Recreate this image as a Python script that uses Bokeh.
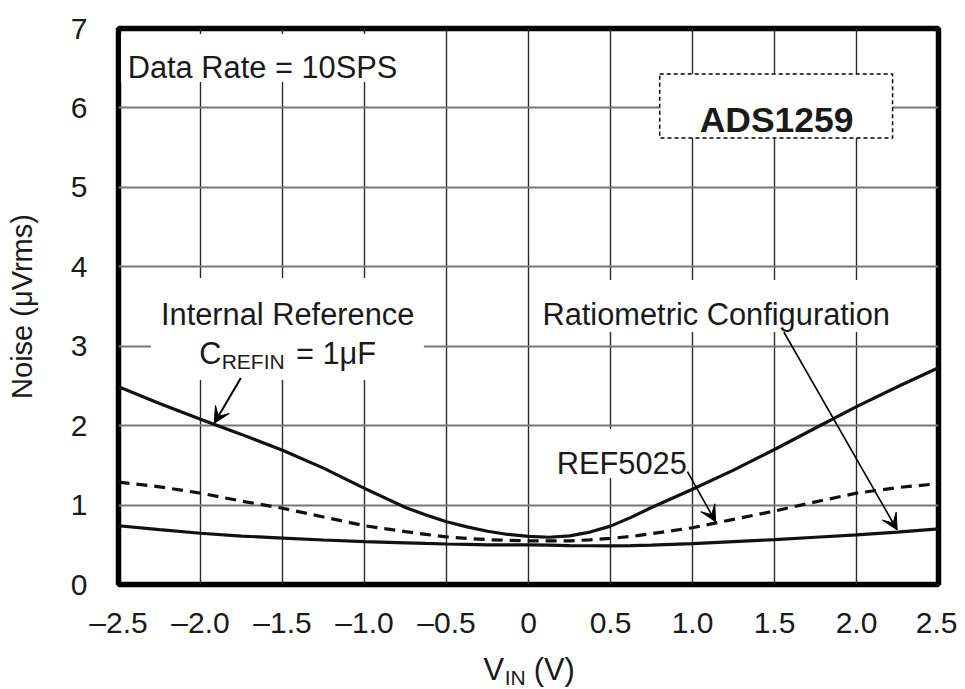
from bokeh.plotting import figure
from bokeh.models import (Label, BoxAnnotation, Arrow, VeeHead, FixedTicker, Range1d,
                          LinearAxis)
from bokeh.embed import file_html
from bokeh.resources import INLINE

# ---- data ----
vin = [-2.5, -2.25, -2.0, -1.75, -1.5, -1.25, -1.0, -0.75, -0.625, -0.5, -0.375, -0.25,
       -0.125, 0.0, 0.125, 0.25, 0.375, 0.5, 0.625, 0.75, 1.0, 1.25, 1.5, 1.75, 2.0,
       2.25, 2.5]
internal_ref = [2.49, 2.28, 2.08, 1.89, 1.69, 1.465, 1.21, 0.97, 0.875, 0.79, 0.725, 0.67,
                0.63, 0.605, 0.595, 0.612, 0.66, 0.735, 0.845, 0.97, 1.20, 1.44, 1.70,
                1.97, 2.24, 2.49, 2.73]
ref5025 = [1.29, 1.23, 1.15, 1.05, 0.96, 0.85, 0.74, 0.665, 0.63, 0.60, 0.58, 0.565,
           0.555, 0.55, 0.548, 0.55, 0.562, 0.58, 0.605, 0.64, 0.715, 0.82, 0.925,
           1.04, 1.15, 1.22, 1.27]
ratiometric = [0.74, 0.69, 0.645, 0.61, 0.585, 0.56, 0.54, 0.525, 0.517, 0.51, 0.505,
               0.50, 0.50, 0.50, 0.495, 0.49, 0.488, 0.487, 0.489, 0.495, 0.515, 0.54,
               0.565, 0.595, 0.625, 0.66, 0.70]

x_ticks = [-2.5, -2.0, -1.5, -1.0, -0.5, 0.0, 0.5, 1.0, 1.5, 2.0, 2.5]
x_tick_labels = ["\u20132.5", "\u20132.0", "\u20131.5", "\u20131.0", "\u20130.5", "0",
                 "0.5", "1.0", "1.5", "2.0", "2.5"]
y_ticks = [0, 1, 2, 3, 4, 5, 6, 7]

FONT = "Liberation Sans"
TXT = "#1a1a1a"

p = figure(frame_width=820, frame_height=556, output_backend="svg",
           toolbar_location=None, x_range=Range1d(-2.5, 2.5), y_range=Range1d(0, 7),
           min_border_left=118, min_border_right=19, min_border_top=28,
           min_border_bottom=105)
p.background_fill_color = "white"
p.border_fill_color = "white"
p.outline_line_color = "black"
p.outline_line_width = 5.5

p.xaxis.ticker = FixedTicker(ticks=x_ticks)
p.xaxis.major_label_overrides = {t: l for t, l in zip(x_ticks, x_tick_labels)}
p.yaxis.ticker = FixedTicker(ticks=y_ticks)


def plain_axis(ax, size):
    ax.axis_line_color = None
    ax.major_tick_line_color = None
    ax.minor_tick_line_color = None
    ax.major_tick_out = 0
    ax.major_tick_in = 0
    ax.major_label_text_font = FONT
    ax.major_label_text_font_size = size
    ax.major_label_text_color = TXT


for ax in (p.xaxis[0], p.yaxis[0]):
    plain_axis(ax, "30px")
p.xaxis.major_label_standoff = 21
p.yaxis.major_label_standoff = 31

p.yaxis.axis_label = "Noise (\u03bcVrms)"
p.yaxis.axis_label_text_font = FONT
p.yaxis.axis_label_text_font_size = "29px"
p.yaxis.axis_label_text_font_style = "normal"
p.yaxis.axis_label_text_color = TXT
p.yaxis.axis_label_standoff = 30

# x axis title "V_IN (V)": two label-only axes so that IN can sit as a subscript
pos_v, pos_in, pos_paren = -0.212, -0.081, 0.157
title_axis = LinearAxis(ticker=FixedTicker(ticks=[pos_v, pos_paren]),
                        major_label_overrides={pos_v: "V", pos_paren: "(V)"})
plain_axis(title_axis, "30.8px")
title_axis.major_label_standoff = 10
p.add_layout(title_axis, "below")
sub_axis = LinearAxis(ticker=FixedTicker(ticks=[pos_in]),
                      major_label_overrides={pos_in: "IN"})
plain_axis(sub_axis, "21px")
sub_axis.major_label_standoff = -24
p.add_layout(sub_axis, "below")

p.xgrid.grid_line_color = "#2a2a2a"
p.xgrid.grid_line_width = 1.4
p.ygrid.grid_line_color = "#777777"
p.ygrid.grid_line_width = 2

# white gaps in the grid behind the texts
for l, r, b, t in [(-2.485, -0.717, 6.326, 6.931), (-2.302, -0.638, 2.575, 3.859),
                   (0.032, 2.238, 3.179, 3.834), (0.135, 0.976, 1.341, 1.958)]:
    p.add_layout(BoxAnnotation(left=l, right=r, bottom=b, top=t, fill_color="white",
                               fill_alpha=1, line_color=None))

p.line(vin, internal_ref, line_color="#111111", line_width=3.2)
p.line(vin, ref5025, line_color="#111111", line_width=3.2, line_dash="11 7")
p.line(vin, ratiometric, line_color="#111111", line_width=3.2)

# ADS1259 box
p.add_layout(BoxAnnotation(left=0.80, right=2.22, bottom=5.621, top=6.427,
                           fill_color="white", fill_alpha=1, line_color="black",
                           line_alpha=1, line_width=1.5, line_dash="4 3"))


def lab(text, x, y, size=30.8, align="left", baseline="alphabetic", style="normal"):
    p.add_layout(Label(x=x, y=y, text=text, text_font=FONT, text_font_size=f"{size}px",
                       text_align=align, text_baseline=baseline, text_color=TXT,
                       text_font_style=style))


lab("ADS1259", 1.513, 5.85, size=35.5, align="center", style="bold")
lab("Data Rate = 10SPS", -2.444, 6.511)
lab("Internal Reference", -2.241, 3.405)
lab("C", -2.008, 2.911)
lab("REFIN", -1.871, 2.805, size=21)
lab("= 1\u03bcF", -1.418, 2.911)
lab("Ratiometric Configuration", 0.085, 3.405)
lab("REF5025", 0.172, 1.526)

# arrows
for xs, ys, xe, ye, w in [(-1.754, 2.60, -1.916, 2.03, 2.0),
                          (0.969, 1.42, 1.141, 0.79, 1.6),
                          (1.557, 3.179, 2.248, 0.686, 1.6)]:
    p.add_layout(Arrow(end=VeeHead(size=16, fill_color="black", line_color="black",
                                   line_width=1),
                       x_start=xs, y_start=ys, x_end=xe, y_end=ye,
                       line_color="black", line_width=w))

open("out.html", "w").write(file_html(p, INLINE))
